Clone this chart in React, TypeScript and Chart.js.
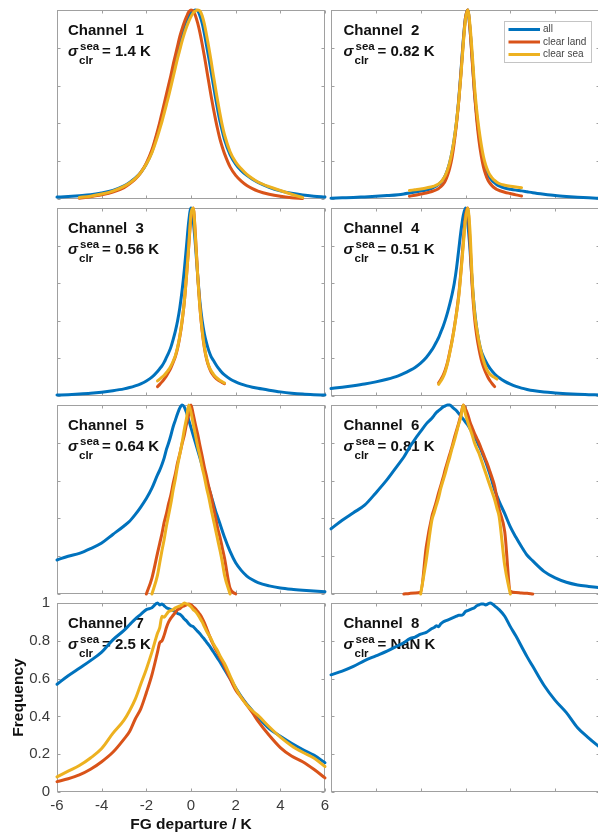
import React, { useEffect, useRef } from 'react';
import { Chart, registerables } from 'chart.js';

Chart.register(...registerables);

const N = null;

// Shared x grid (FG departure / K)
const X = [
  -6, -5.5, -5, -4.5, -4, -3.5, -3,
  -2.75, -2.5, -2.25, -2, -1.75,
  -1.5, -1.4, -1.3, -1.2, -1.1, -1, -0.9, -0.8, -0.7, -0.6, -0.5, -0.4, -0.3, -0.2, -0.1,
  0,
  0.1, 0.2, 0.3, 0.4, 0.5, 0.6, 0.7, 0.8, 0.9, 1, 1.1, 1.2, 1.3, 1.4, 1.5,
  1.75, 2, 2.25, 2.5, 2.75,
  3, 3.5, 4, 4.5, 5, 5.5, 6,
];

// Channel 1
const ch1All = [
  0.01, 0.013, 0.017, 0.022, 0.032, 0.046, 0.07,
  0.088, 0.11, 0.14, 0.185, 0.25,
  0.35, 0.39, 0.435, 0.48, 0.53, 0.58, 0.63, 0.685, 0.735, 0.785, 0.83, 0.875, 0.915, 0.945, 0.97,
  0.985,
  0.995, 1.0, 0.995, 0.97, 0.93, 0.875, 0.81, 0.745, 0.675, 0.605, 0.535, 0.47, 0.41, 0.36, 0.315,
  0.235, 0.185, 0.15, 0.125, 0.105,
  0.088, 0.062, 0.043, 0.03, 0.021, 0.015, 0.011,
];
const ch1Land = [
  N, N, 0.004, 0.012, 0.022, 0.036, 0.06,
  0.08, 0.105, 0.14, 0.19, 0.26,
  0.36, 0.405, 0.455, 0.505, 0.555, 0.605, 0.655, 0.71, 0.76, 0.81, 0.86, 0.9, 0.935, 0.965, 0.99,
  1.0,
  0.995, 0.97, 0.93, 0.88, 0.82, 0.755, 0.685, 0.615, 0.545, 0.48, 0.42, 0.365, 0.315, 0.275, 0.24,
  0.17, 0.125, 0.095, 0.072, 0.055,
  0.042, 0.025, 0.014, 0.007, 0.003, N, N,
];
const ch1Sea = [
  N, N, 0.008, 0.015, 0.026, 0.042, 0.067,
  0.085, 0.108, 0.14, 0.185, 0.245,
  0.33, 0.37, 0.41, 0.455, 0.5, 0.545, 0.595, 0.645, 0.695, 0.745, 0.79, 0.835, 0.875, 0.91, 0.94,
  0.965,
  0.985, 0.995, 1.0, 0.995, 0.97, 0.925, 0.865, 0.8, 0.73, 0.655, 0.585, 0.515, 0.45, 0.39, 0.34,
  0.25, 0.195, 0.16, 0.13, 0.108,
  0.09, 0.065, 0.045, 0.025, 0.008, N, N,
];

// Channel 2
const ch2All = [
  0.004, 0.006, 0.008, 0.011, 0.014, 0.018, 0.023,
  0.027, 0.032, 0.037, 0.042, 0.048,
  0.057, 0.062, 0.069, 0.077, 0.088, 0.103, 0.125, 0.155, 0.195, 0.25, 0.32, 0.41, 0.53, 0.68, 0.84,
  0.96,
  1.0, 0.9, 0.74, 0.57, 0.44, 0.34, 0.26, 0.2, 0.16, 0.13, 0.11, 0.096, 0.085, 0.076, 0.069,
  0.058, 0.052, 0.047, 0.043, 0.038,
  0.033, 0.025, 0.018, 0.013, 0.009, 0.006, 0.004,
];
const ch2Land = [
  N, N, N, N, N, N, N,
  N, 0.015, 0.02, 0.026, 0.032,
  0.04, 0.044, 0.049, 0.056, 0.065, 0.078, 0.096, 0.125, 0.165, 0.22, 0.3, 0.4, 0.52, 0.67, 0.83,
  0.96,
  1.0, 0.9, 0.73, 0.56, 0.42, 0.31, 0.23, 0.17, 0.13, 0.1, 0.082, 0.068, 0.058, 0.05, 0.045,
  0.036, 0.029, 0.022, 0.016, N,
  N, N, N, N, N, N, N,
];
const ch2Sea = [
  N, N, N, N, N, N, N,
  N, 0.045, 0.049, 0.053, 0.058,
  0.065, 0.068, 0.073, 0.08, 0.09, 0.105, 0.125, 0.155, 0.195, 0.25, 0.32, 0.41, 0.52, 0.66, 0.82,
  0.95,
  1.0, 0.92, 0.77, 0.6, 0.47, 0.37, 0.29, 0.225, 0.18, 0.148, 0.125, 0.11, 0.098, 0.089, 0.082,
  0.073, 0.067, 0.063, 0.06, N,
  N, N, N, N, N, N, N,
];

// Channel 3
const ch3All = [
  0.005, 0.007, 0.01, 0.014, 0.02, 0.028, 0.038,
  0.045, 0.054, 0.065, 0.08, 0.1,
  0.13, 0.145, 0.16, 0.18, 0.205, 0.23, 0.26, 0.3, 0.345, 0.4, 0.47, 0.56, 0.67, 0.8, 0.93,
  1.0,
  0.93, 0.8, 0.64, 0.5, 0.4, 0.33, 0.28, 0.24, 0.21, 0.19, 0.17, 0.152, 0.137, 0.123, 0.112,
  0.09, 0.075, 0.063, 0.054, 0.047,
  0.041, 0.031, 0.022, 0.015, 0.01, 0.007, 0.005,
];
const ch3Land = [
  N, N, N, N, N, N, N,
  N, N, N, N, N,
  0.05, 0.062, 0.075, 0.09, 0.107, 0.127, 0.15, 0.178, 0.21, 0.255, 0.315, 0.395, 0.5, 0.64, 0.8,
  0.95,
  1.0, 0.85, 0.64, 0.47, 0.345, 0.255, 0.195, 0.155, 0.128, 0.11, 0.096, 0.086, 0.078, 0.071, 0.066,
  N, N, N, N, N,
  N, N, N, N, N, N, N,
];
const ch3Sea = [
  N, N, N, N, N, N, N,
  N, N, N, N, N,
  0.08, 0.09, 0.1, 0.11, 0.125, 0.14, 0.16, 0.185, 0.215, 0.26, 0.32, 0.4, 0.5, 0.64, 0.8,
  0.97,
  1.0, 0.84, 0.64, 0.47, 0.35, 0.26, 0.2, 0.16, 0.135, 0.117, 0.102, 0.092, 0.083, 0.076, 0.069,
  N, N, N, N, N,
  N, N, N, N, N, N, N,
];

// Channel 4
const ch4All = [
  0.04, 0.047, 0.055, 0.064, 0.075, 0.089, 0.107,
  0.12, 0.135, 0.152, 0.175, 0.205,
  0.245, 0.265, 0.287, 0.31, 0.34, 0.37, 0.405, 0.445, 0.49, 0.54, 0.6, 0.68, 0.78, 0.88, 0.96,
  1.0,
  0.92, 0.78, 0.6, 0.46, 0.36, 0.29, 0.24, 0.21, 0.185, 0.163, 0.145, 0.13, 0.117, 0.106, 0.097,
  0.078, 0.063, 0.051, 0.042, 0.035,
  0.029, 0.021, 0.016, 0.012, 0.009, 0.007, 0.005,
];
const ch4Land = [
  N, N, N, N, N, N, N,
  N, N, N, N, N,
  N, N, N, 0.07, 0.088, 0.11, 0.14, 0.18, 0.235, 0.295, 0.365, 0.445, 0.54, 0.67, 0.82,
  0.96,
  1.0, 0.82, 0.58, 0.42, 0.32, 0.25, 0.195, 0.155, 0.125, 0.1, 0.08, 0.064, 0.05, N, N,
  N, N, N, N, N,
  N, N, N, N, N, N, N,
];
const ch4Sea = [
  N, N, N, N, N, N, N,
  N, N, N, N, N,
  N, N, N, 0.062, 0.08, 0.1, 0.13, 0.175, 0.23, 0.29, 0.36, 0.44, 0.53, 0.66, 0.8,
  0.94,
  1.0, 0.88, 0.62, 0.45, 0.36, 0.29, 0.235, 0.19, 0.155, 0.13, 0.115, 0.105, 0.098, 0.09, N,
  N, N, N, N, N,
  N, N, N, N, N, N, N,
];

// Channel 5
const ch5All = [
  0.18, 0.2, 0.215, 0.24, 0.27, 0.315, 0.36,
  0.385, 0.42, 0.46, 0.505, 0.56,
  0.63, 0.655, 0.685, 0.72, 0.765, 0.8, 0.84, 0.885, 0.92, 0.955, 0.985, 1.0, 0.99, 0.96, 0.92,
  0.88,
  0.84, 0.8, 0.76, 0.72, 0.68, 0.64, 0.6, 0.56, 0.52, 0.48, 0.44, 0.405, 0.37, 0.335, 0.3,
  0.225, 0.165, 0.125, 0.095, 0.075,
  0.06, 0.043, 0.032, 0.025, 0.02, 0.016, 0.012,
];
const ch5Land = [
  N, N, N, N, N, N, N,
  N, N, N, 0.0, 0.084,
  0.216, 0.268, 0.32, 0.38, 0.426, 0.479, 0.525, 0.584, 0.636, 0.695, 0.742, 0.794, 0.84, 0.9, 0.95,
  1.0,
  0.95, 0.895, 0.845, 0.785, 0.73, 0.67, 0.62, 0.565, 0.52, 0.46, 0.405, 0.345, 0.3, 0.245, 0.19,
  0.03, 0.0, N, N, N,
  N, N, N, N, N, N, N,
];
const ch5Sea = [
  N, N, N, N, N, N, N,
  N, N, N, N, 0.0,
  0.1, 0.166, 0.23, 0.29, 0.36, 0.42, 0.48, 0.55, 0.61, 0.68, 0.74, 0.8, 0.87, 0.93, 1.0,
  0.96,
  0.9, 0.84, 0.78, 0.73, 0.67, 0.62, 0.56, 0.51, 0.45, 0.395, 0.34, 0.285, 0.23, 0.17, 0.1,
  0.0, N, N, N, N,
  N, N, N, N, N, N, N,
];

// Channel 6
const ch6All = [
  0.345, 0.39, 0.43, 0.47, 0.535, 0.605, 0.685,
  0.725, 0.775, 0.82, 0.86, 0.9,
  0.93, 0.945, 0.96, 0.97, 0.98, 0.99, 0.995, 1.0, 1.0, 0.99, 0.98, 0.97, 0.955, 0.94, 0.925,
  0.91,
  0.895, 0.875, 0.855, 0.83, 0.81, 0.785, 0.76, 0.73, 0.7, 0.665, 0.63, 0.59, 0.55, 0.52, 0.49,
  0.425, 0.355, 0.3, 0.25, 0.205,
  0.175, 0.12, 0.085, 0.062, 0.048, 0.04, 0.033,
];
const ch6Land = [
  N, N, N, N, N, N, N,
  0.0, 0.003, 0.005, 0.01, 0.25,
  0.41, 0.45, 0.49, 0.535, 0.575, 0.615, 0.66, 0.7, 0.74, 0.78, 0.825, 0.865, 0.905, 0.95, 1.0,
  0.98,
  0.95, 0.91, 0.88, 0.85, 0.825, 0.8, 0.77, 0.74, 0.71, 0.68, 0.645, 0.61, 0.57, 0.51, 0.45,
  0.33, 0.015, 0.008, 0.005, 0.004,
  0.0, N, N, N, N, N, N,
];
const ch6Sea = [
  N, N, N, N, N, N, N,
  N, N, N, 0.0, 0.18,
  0.39, 0.43, 0.47, 0.51, 0.56, 0.6, 0.64, 0.685, 0.725, 0.77, 0.81, 0.855, 0.9, 0.94, 1.0,
  0.95,
  0.91, 0.875, 0.84, 0.8, 0.77, 0.745, 0.71, 0.675, 0.64, 0.605, 0.57, 0.535, 0.5, 0.455, 0.41,
  0.15, 0.0, N, N, N,
  N, N, N, N, N, N, N,
];

// Channel 7
const ch7All = [
  0.57, 0.615, 0.655, 0.695, 0.74, 0.805, 0.855,
  0.885, 0.915, 0.94, 0.965, 0.975,
  1.0, 0.99, 0.995, 0.985, 0.975, 0.97, 0.965, 0.96, 0.955, 0.945, 0.94, 0.93, 0.915, 0.905, 0.89,
  0.88,
  0.875, 0.862, 0.85, 0.837, 0.822, 0.808, 0.792, 0.777, 0.76, 0.742, 0.724, 0.706, 0.688, 0.668, 0.648,
  0.6, 0.552, 0.505, 0.465, 0.43,
  0.395, 0.335, 0.295, 0.258, 0.225, 0.195, 0.155,
];
const ch7Land = [
  0.055, 0.07, 0.09, 0.12, 0.16, 0.21, 0.28,
  0.32, 0.385, 0.44, 0.525, 0.62,
  0.74, 0.79, 0.8, 0.83, 0.87, 0.9, 0.92, 0.935, 0.95, 0.965, 0.97, 0.98, 0.985, 0.99, 0.995,
  0.99,
  0.98, 0.97, 0.955, 0.94, 0.92, 0.895, 0.865, 0.835, 0.805, 0.78, 0.755, 0.735, 0.71, 0.69, 0.665,
  0.6, 0.54, 0.5, 0.46, 0.42,
  0.375, 0.3, 0.235, 0.19, 0.16, 0.12, 0.075,
];
const ch7Sea = [
  0.08, 0.11, 0.14, 0.18, 0.23, 0.31, 0.38,
  0.43, 0.49, 0.57, 0.65, 0.74,
  0.84, 0.87, 0.93, 0.925, 0.94, 0.955, 0.96, 0.965, 0.975, 0.98, 0.985, 0.99, 1.0, 0.995, 0.99,
  0.98,
  0.965, 0.955, 0.94, 0.92, 0.9, 0.875, 0.85, 0.83, 0.81, 0.785, 0.765, 0.745, 0.72, 0.7, 0.68,
  0.615, 0.55, 0.5, 0.46, 0.43,
  0.405, 0.345, 0.29, 0.245, 0.21, 0.18, 0.135,
];

// Channel 8
const ch8All = [
  0.62, 0.64, 0.665, 0.695, 0.72, 0.745, 0.775,
  0.79, 0.81, 0.82, 0.835, 0.845,
  0.865, 0.87, 0.88, 0.875, 0.89, 0.9, 0.905, 0.91, 0.915, 0.92, 0.925, 0.93, 0.935, 0.935, 0.94,
  0.955,
  0.96, 0.965, 0.97, 0.975, 0.985, 0.99, 0.995, 0.995, 0.99, 0.995, 1.0, 0.995, 0.985, 0.975, 0.965,
  0.93, 0.875, 0.825, 0.77, 0.715,
  0.665, 0.565, 0.485, 0.42, 0.34, 0.285, 0.235,
];

const channelNames = ['Channel  1', 'Channel  2', 'Channel  3', 'Channel  4', 'Channel  5', 'Channel  6', 'Channel  7', 'Channel  8'];
const sigmaValues = ['1.4', '0.82', '0.56', '0.51', '0.64', '0.81', '2.5', 'NaN'];
const seriesLabels = ['all', 'clear land', 'clear sea'];
const seriesColors = ['#0072BD', '#D95319', '#EDB120'];
const xTicks = [-6, -4, -2, 0, 2, 4, 6];
const xTickLabels = ['-6', '-4', '-2', '0', '2', '4', '6'];
const yTicks = [0, 0.2, 0.4, 0.6, 0.8, 1];
const yTickLabels = ['0', '0.2', '0.4', '0.6', '0.8', '1'];
const xTitle = 'FG departure / K';
const yTitle = 'Frequency';

const panelSeries = [
  [ch1All, ch1Land, ch1Sea],
  [ch2All, ch2Land, ch2Sea],
  [ch3All, ch3Land, ch3Sea],
  [ch4All, ch4Land, ch4Sea],
  [ch5All, ch5Land, ch5Sea],
  [ch6All, ch6Land, ch6Sea],
  [ch7All, ch7Land, ch7Sea],
  [ch8All, null, null],
];

// Layout (pixels)
const CW = 610;
const CH = 834;
const COLS = [[57, 325], [331, 600]];
const ROWS = [[10, 199], [208, 396], [405, 594], [603, 792]];
const FONT = '"Liberation Sans", Arial, Helvetica, sans-serif';
const AXIS_COLOR = '#a0a0a0';
const TEXT_COLOR = '#111111';
const TICK_COLOR = '#3a3a3a';

function toPoints(ys: (number | null)[]) {
  const pts: { x: number; y: number }[] = [];
  ys.forEach((y, i) => {
    if (y !== null && y !== undefined) pts.push({ x: X[i], y });
  });
  return pts;
}

function makePlugin(i: number) {
  const col = i % 2;
  return {
    id: 'panelDecor' + i,
    beforeDatasetsDraw(chart: any) {
      const { ctx, chartArea: a, scales } = chart;
      const xs = scales.x;
      const ys = scales.y;
      ctx.save();
      ctx.strokeStyle = AXIS_COLOR;
      ctx.lineWidth = 1;
      const l = Math.round(a.left) + 0.5;
      const r = Math.round(a.right) - 0.5;
      const t = Math.round(a.top) + 0.5;
      const b = Math.round(a.bottom) - 0.5;
      ctx.strokeRect(l, t, r - l, b - t);
      ctx.beginPath();
      xTicks.forEach((v) => {
        const p = Math.round(xs.getPixelForValue(v)) + 0.5;
        ctx.moveTo(p, b); ctx.lineTo(p, b - 3);
        ctx.moveTo(p, t); ctx.lineTo(p, t + 3);
      });
      yTicks.forEach((v) => {
        const p = Math.round(ys.getPixelForValue(v)) + 0.5;
        ctx.moveTo(l, p); ctx.lineTo(l + 3, p);
        ctx.moveTo(r, p); ctx.lineTo(r - 3, p);
      });
      ctx.stroke();

      // annotation text
      const dx = col === 0 ? 11 : 12.5;
      const L = a.left + dx;
      const T = a.top;
      ctx.fillStyle = TEXT_COLOR;
      ctx.textBaseline = 'alphabetic';
      ctx.textAlign = 'left';
      ctx.font = 'bold 15px ' + FONT;
      ctx.fillText(channelNames[i], L, T + 24.5);
      ctx.font = 'italic bold 15px ' + FONT;
      ctx.fillText('σ', L, T + 46);
      ctx.font = 'bold 11.5px ' + FONT;
      ctx.fillText('sea', L + 12, T + 40);
      ctx.fillText('clr', L + 11, T + 54);
      ctx.font = 'bold 15px ' + FONT;
      ctx.fillText('= ' + sigmaValues[i] + ' K', L + 34, T + 46);
      ctx.restore();
    },
    afterDatasetsDraw(chart: any) {
      if (i !== 1) return;
      const { ctx, chartArea: a } = chart;
      const bx = Math.round(a.left + 173) + 0.5;
      const by = Math.round(a.top + 11) + 0.5;
      const bw = 87;
      const bh = 41;
      ctx.save();
      ctx.fillStyle = '#ffffff';
      ctx.fillRect(bx, by, bw, bh);
      ctx.strokeStyle = '#c4c4c4';
      ctx.lineWidth = 1;
      ctx.strokeRect(bx, by, bw, bh);
      ctx.font = '10px ' + FONT;
      ctx.textBaseline = 'middle';
      ctx.textAlign = 'left';
      chart.data.datasets
        .slice()
        .sort((p: any, q: any) => seriesLabels.indexOf(p.label) - seriesLabels.indexOf(q.label))
        .forEach((ds: any, k: number) => {
          const yy = by + 8 + k * 12.5;
          ctx.strokeStyle = ds.borderColor;
          ctx.lineWidth = 3;
          ctx.beginPath();
          ctx.moveTo(bx + 4, yy);
          ctx.lineTo(bx + 35.5, yy);
          ctx.stroke();
          ctx.fillStyle = '#444444';
          ctx.fillText(ds.label, bx + 38.5, yy);
        });
      ctx.restore();
    },
  };
}

function makeConfig(i: number): any {
  const col = i % 2;
  const row = Math.floor(i / 2);
  const [L, R] = COLS[col];
  const [T, B] = ROWS[row];
  const labeled = i === 6;
  const datasets: any[] = [];
  panelSeries[i].forEach((ys, k) => {
    if (!ys) return;
    datasets.push({
      label: seriesLabels[k],
      data: toPoints(ys),
      borderColor: seriesColors[k],
      backgroundColor: seriesColors[k],
      borderWidth: 3,
      pointRadius: 0,
      pointHoverRadius: 0,
      fill: false,
      cubicInterpolationMode: 'monotone',
      borderCapStyle: 'round',
      borderJoinStyle: 'round',
      clip: 3,
      order: 3 - k,
    });
  });

  const tickFont = { family: FONT, size: 15 };
  const titleFont = { family: FONT, size: 15.5, weight: 'bold' };

  return {
    type: 'line',
    data: { datasets },
    options: {
      responsive: false,
      animation: false,
      devicePixelRatio: 1,
      events: [],
      layout: {
        padding: labeled
          ? { left: 0, top: T, right: CW - R, bottom: 0 }
          : { left: L, top: T, right: CW - R, bottom: CH - B },
      },
      plugins: {
        legend: { display: false },
        tooltip: { enabled: false },
        title: { display: false },
      },
      scales: {
        x: {
          type: 'linear',
          min: -6,
          max: 6,
          display: labeled,
          afterBuildTicks: (s: any) => { s.ticks = xTicks.map((v) => ({ value: v })); },
          afterFit: (s: any) => { if (labeled) s.height = CH - B; },
          ticks: {
            autoSkip: false,
            maxRotation: 0,
            padding: 5,
            color: TICK_COLOR,
            font: tickFont,
            callback: (_v: any, idx: number) => xTickLabels[idx],
          },
          grid: { display: false, drawTicks: false },
          border: { display: false },
          title: { display: labeled, text: xTitle, color: TEXT_COLOR, font: titleFont, padding: { top: 0, bottom: 0 } },
        },
        y: {
          type: 'linear',
          min: 0,
          max: 1,
          display: labeled,
          afterBuildTicks: (s: any) => { s.ticks = yTicks.map((v) => ({ value: v })); },
          afterFit: (s: any) => { if (labeled) s.width = L; },
          ticks: {
            autoSkip: false,
            padding: 7,
            color: TICK_COLOR,
            font: tickFont,
            callback: (_v: any, idx: number) => yTickLabels[idx],
          },
          grid: { display: false, drawTicks: false },
          border: { display: false },
          title: { display: labeled, text: yTitle, color: TEXT_COLOR, font: titleFont, padding: { top: 9.5, bottom: 0 } },
        },
      },
    },
    plugins: [makePlugin(i)],
  };
}

export default function App() {
  const refs = useRef<(HTMLCanvasElement | null)[]>([]);
  useEffect(() => {
    const charts: Chart[] = [];
    refs.current.forEach((c, i) => {
      if (c) charts.push(new Chart(c, makeConfig(i)));
    });
    return () => charts.forEach((ch) => ch.destroy());
  }, []);

  return (
    <div
      style={{
        position: 'absolute',
        left: 0,
        top: 0,
        width: 598,
        height: CH,
        overflow: 'hidden',
        background: '#ffffff',
      }}
    >
      {panelSeries.map((_, i) => (
        <canvas
          key={i}
          ref={(el) => { refs.current[i] = el; }}
          width={CW}
          height={CH}
          style={{ position: 'absolute', left: 0, top: 0, width: CW, height: CH }}
        />
      ))}
    </div>
  );
}
